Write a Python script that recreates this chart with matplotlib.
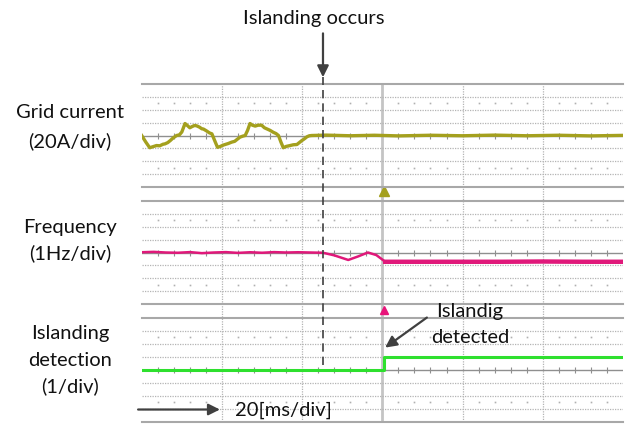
import numpy as np
import matplotlib
matplotlib.use('Agg')
import matplotlib.pyplot as plt

plt.rcParams['font.family'] = ['Lato', 'DejaVu Sans']

# time axis: 20 ms/div, 6 divisions on screen
t_span = 120.0
t_islanding = 45.2   # islanding occurs (ms)
t_trigger = 60.0     # scope trigger / detection instant

# grid current, in A (20 A/div)
t_cur = [0, 1, 2, 3, 3.7, 4.5, 5.3, 5.8, 6.5, 7.1, 7.8, 8.7, 9.4, 10.0, 10.4,
         10.8, 11.3, 12.0, 12.6, 13.2, 13.7, 14.4, 15.0, 15.4, 16.2, 16.9,
         17.5, 18.2, 18.9, 19.6, 20.3, 20.8, 21.6, 22.4, 23.2, 23.8, 24.5,
         25.2, 25.8, 26.4, 27.0, 27.6, 28.3, 29.0, 29.9, 30.6, 31.3, 32.0,
         32.8, 33.5, 34.1, 34.7, 35.3, 36.0, 37.0, 37.8, 38.7, 39.3, 39.9,
         40.6, 41.2, 41.8, 42.4, 46, 52, 58, 64, 72, 80, 88, 96, 104, 112, 120]
i_cur = [0, -10, -19, -17, -15.6, -16, -13.6, -13, -11, -8, -4, 0, 1, 5.4, 12,
         18.6, 16, 12, 14, 15.6, 15, 13, 10.4, 10, 7, 4, 2.6, -8, -18.4, -17,
         -15, -14, -12.4, -10.4, -9, -6, -2.6, -1, 0, 8, 18.6, 16, 14.6, 16,
         16, 12, 10, 8, 5, 3, 0, -10, -19, -17, -15.6, -14.4, -14, -11, -8, -5,
         -2, -0.4, 0, 0.6, -0.4, 0.4, -0.6, 0.4, -0.4, 0.6, -0.4, 0.4, -0.6, 0.2]

# frequency, in Hz (1 Hz/div, centre 50 Hz)
t_freq = [0, 3, 6, 9, 12, 15, 18, 21, 24, 27, 30, 33, 36, 39, 42, 45.2, 48,
          51.5, 54, 56.4, 58.5, 60.0, 60.7, 70, 80, 90, 100, 110, 120]
f_freq = [50.02, 50.05, 50.0, 49.98, 50.03, 49.95, 50.0, 50.03, 49.97, 50.02,
          49.98, 50.03, 50.0, 50.02, 50.0, 49.98, 49.78, 49.42, 49.7, 50.0,
          49.8, 49.45, 49.28, 49.28, 49.28, 49.28, 49.3, 49.28, 49.28]

# islanding detection flag (1/div)
t_det = [0, 60.5, 120]
d_det = [0, 1, 1]

W, H = 630, 426
fig = plt.figure(figsize=(W / 100, H / 100), dpi=100)
FS = 14.5


def fx(px):
    return px / W


def fy(py):
    return 1 - py / H


x0, x1 = 141.7, 623.0
panels_px = [(84, 187), (201, 304), (318, 421.5)]
grid_c = '#b4b4b4'
full_rect = [fx(x0), fy(421.5), fx(x1) - fx(x0), fy(84) - fy(421.5)]

# background axes for the vertical lines that run through all panels
ax_bg = fig.add_axes(full_rect, zorder=0)
ax_bg.set_xlim(0, t_span)
ax_bg.set_ylim(0, 1)
ax_bg.axis('off')
for tv in [20, 40, 80, 100]:
    ax_bg.axvline(tv, color=grid_c, lw=0.9, ls=(0, (1, 1)))
ax_bg.axvline(t_trigger, color='#c4c4c4', lw=2)


def make_panel(top, bot, center, ylim):
    ax = fig.add_axes([fx(x0), fy(bot), fx(x1) - fx(x0), fy(top) - fy(bot)],
                      zorder=1)
    ax.set_facecolor('none')
    ax.set_xlim(0, t_span)
    ax.set_ylim(*ylim)
    div = (ylim[1] - ylim[0]) / 8
    for k in [-3, -2, -1, 1, 2, 3]:
        ax.axhline(center + k * div, color=grid_c, lw=0.9, ls=(0, (1, 1)))
    ax.axhline(center, color='#8f8f8f', lw=1.0)
    sub = [tv for tv in np.arange(4, t_span, 4) if tv % 20 != 0]
    ax.plot(sub, [center] * len(sub), ls='none', marker='|', ms=4,
            color='#8f8f8f', mew=0.8)
    for k in [-2.5, 2.5]:
        ax.plot(sub, [center + k * div] * len(sub), ls='none', marker='s',
                ms=1.2, color='#b0b0b0', mew=0)
    for s in ['left', 'right']:
        ax.spines[s].set_visible(False)
    for s in ['top', 'bottom']:
        ax.spines[s].set_color('#a8a8a8')
        ax.spines[s].set_linewidth(1.5)
    ax.set_xticks([])
    ax.set_yticks([])
    return ax


ax1 = make_panel(*panels_px[0], 0, (-80, 80))
ax2 = make_panel(*panels_px[1], 50, (46, 54))
ax3 = make_panel(*panels_px[2], 0, (-4, 4))

ax1.plot(t_cur, i_cur, color='#a4a01e', lw=2.4)

t_freq = np.array(t_freq)
f_freq = np.array(f_freq)
pre = t_freq <= 60.7
post = t_freq >= 60.7
ax2.plot(t_freq[pre], f_freq[pre], color='#e0187a', lw=1.8)
ax2.plot(t_freq[post], f_freq[post], color='#e0187a', lw=3.2)

ax3.step(t_det, d_det, where='post', color='#2ee02e', lw=2.2)

# trigger markers
ax1.plot([60.4], [-86], marker='^', ms=7, color='#a4a01e', clip_on=False)
ax2.plot([60.4], [45.5], marker='^', ms=6, color='#e8147a', clip_on=False)

# overlay for annotations, drawn above the panels
ax_top = fig.add_axes(full_rect, zorder=5)
ax_top.set_xlim(0, t_span)
ax_top.set_ylim(0, 1)
ax_top.axis('off')
arrow_kw = dict(arrowstyle='-|>', color='#404040', lw=1.6, mutation_scale=17,
                shrinkA=0, shrinkB=0)

# islanding instant
ax_top.plot([t_islanding, t_islanding], [0.166, 1.02], color='#404040',
            lw=1.2, ls=(0, (5, 3)), clip_on=False)
ax_top.annotate('', xy=(t_islanding, 1.02), xytext=(t_islanding, 1.15),
                arrowprops=arrow_kw, annotation_clip=False)
ax_top.text(42.8, 1.195, 'Islanding occurs', ha='center', va='center',
            fontsize=FS, color='#111111', clip_on=False)

# detection annotation
ax_top.annotate('', xy=(60.7, 0.219), xytext=(71.1, 0.308),
                arrowprops=arrow_kw, annotation_clip=False)
ax_top.text(81.9, 0.325, 'Islandig', ha='center', va='center', fontsize=FS,
            color='#111111')
ax_top.text(81.9, 0.249, 'detected', ha='center', va='center', fontsize=FS,
            color='#111111')

# time scale arrow
ax_top.annotate('', xy=(19.5, 0.0355), xytext=(-0.9, 0.0355),
                arrowprops=arrow_kw, annotation_clip=False)
ax_top.text(23.3, 0.0325, '20[ms/div]', ha='left', va='center', fontsize=FS,
            color='#111111')

# channel labels
labels = [('Grid current', 113), ('(20A/div)', 141),
          ('Frequency', 228), ('(1Hz/div)', 253),
          ('Islanding', 333), ('detection', 360), ('(1/div)', 386)]
for txt, py in labels:
    fig.text(fx(70), fy(py), txt, ha='center', va='center', fontsize=FS,
             color='#111111')

fig.savefig('out.png', dpi=100)
